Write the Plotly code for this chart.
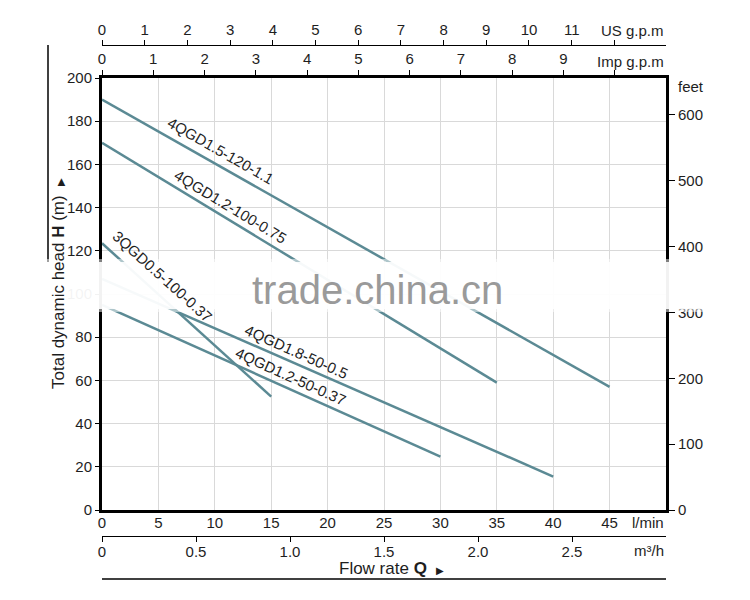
import plotly.graph_objects as go

# ---------------- data ----------------
series_names = ["4QGD1.5-120-1.1", "4QGD1.2-100-0.75", "3QGD0.5-100-0.37",
                "4QGD1.8-50-0.5", "4QGD1.2-50-0.37"]
flow_lpm = [[0, 45], [0, 35], [0, 15], [0, 40], [0, 30]]
head_m = [[190, 57], [170, 59], [123.5, 52.5], [107, 15.5], [95, 24.7]]

# label anchor (l/min, m) and angle for each curve label
label_q = [10.5, 11.4, 5.4, 17.2, 16.75]
label_h = [166.3, 140.7, 108.3, 73.3, 61.7]
label_angle = [29.6, 31.1, 42, 24.1, 24.3]

lpm_ticks = [0, 5, 10, 15, 20, 25, 30, 35, 40, 45]
head_ticks = [0, 20, 40, 60, 80, 100, 120, 140, 160, 180, 200]
feet_ticks = [0, 100, 200, 300, 400, 500, 600]
usgpm_ticks = list(range(0, 13))
impgpm_ticks = list(range(0, 11))
m3h_ticks = [0, 0.5, 1.0, 1.5, 2.0, 2.5]
m3h_labels = ["0", "0.5", "1.0", "1.5", "2.0", "2.5"]

Q_MAX = 50.0
H_MAX = 200.0
M_TO_FT = 3.28084
US_GAL = 3.78541
IMP_GAL = 4.54609

# ---------------- geometry ----------------
# the page shows the figure with an 8px body margin, so positions measured
# on the screenshot are shifted by OFF
OFF = 8
W, H = 750, 600
PL, PR, PT, PB = 102, 666, 20, 590          # paper box in screenshot pixels
ML = PL - OFF
MR = W - (PR - OFF)
MT = PT - OFF
MB = H - (PB - OFF)
PW = PR - PL
PH = PB - PT


def px(xp):
    return (xp - PL) / PW


def py(yp):
    return (PB - yp) / PH


FONT = "Liberation Sans, Arial, sans-serif"
TXT = "#1e1e1e"
LINE = "#5b8a94"
GRID = "#d9d9d9"

fig = go.Figure()
for name, q, h in zip(series_names, flow_lpm, head_m):
    fig.add_trace(go.Scatter(x=q, y=h, mode="lines", name=name,
                             line=dict(color=LINE, width=2.5),
                             showlegend=False, hoverinfo="skip"))
# invisible traces to activate secondary axes
for xa, ya in [("x2", "y"), ("x3", "y"), ("x4", "y"), ("x", "y2")]:
    fig.add_trace(go.Scatter(x=[0], y=[0], xaxis=xa, yaxis=ya, mode="markers",
                             marker=dict(opacity=0), showlegend=False,
                             hoverinfo="skip"))

ydom = [py(510), py(78)]
tickfont = dict(family=FONT, size=15, color=TXT)

fig.update_layout(
    width=W, height=H,
    margin=dict(l=ML, r=MR, t=MT, b=MB, autoexpand=False),
    paper_bgcolor="white", plot_bgcolor="white",
    font=dict(family=FONT, size=15, color=TXT),
    xaxis=dict(range=[0, Q_MAX], domain=[0, 1], anchor="y",
               tickvals=lpm_ticks, ticks="", tickfont=tickfont,
               ticklabelstandoff=-3,
               showgrid=True, gridcolor=GRID, gridwidth=1,
               showline=True, linecolor="black", linewidth=3,
               zeroline=False, fixedrange=True, automargin=False),
    xaxis3=dict(range=[0, Q_MAX / IMP_GAL], overlaying="x", anchor="y", side="top",
                tickvals=impgpm_ticks,
                ticktext=[str(v) if v < 10 else "" for v in impgpm_ticks],
                ticks="outside", ticklen=5, tickwidth=1, tickcolor="black",
                tickfont=tickfont, showgrid=False, automargin=False,
                showline=True, linecolor="black", linewidth=3, zeroline=False),
    xaxis2=dict(range=[0, Q_MAX / US_GAL], overlaying="x", anchor="free",
                position=py(44.5), side="top",
                tickvals=usgpm_ticks,
                ticktext=[str(v) if v < 12 else "" for v in usgpm_ticks],
                ticks="outside", ticklen=5, tickwidth=1, tickcolor="black",
                tickfont=tickfont, showgrid=False, automargin=False,
                ticklabelstandoff=-1,
                showline=True, linecolor="black", linewidth=1, zeroline=False),
    xaxis4=dict(range=[0, Q_MAX * 60 / 1000], overlaying="x", anchor="free",
                position=py(536), side="bottom",
                tickvals=m3h_ticks, ticktext=m3h_labels,
                ticks="outside", ticklen=5, tickwidth=1, tickcolor="black",
                tickfont=tickfont, showgrid=False, automargin=False,
                ticklabelstandoff=-3,
                showline=True, linecolor="black", linewidth=1, zeroline=False),
    yaxis=dict(range=[0, H_MAX], domain=ydom, anchor="x",
               tickvals=head_ticks, ticks="outside", ticklen=4, tickcolor="black",
               tickfont=tickfont, automargin=False,
               showgrid=True, gridcolor=GRID, gridwidth=1,
               showline=True, linecolor="black", linewidth=3,
               zeroline=False, fixedrange=True),
    yaxis2=dict(range=[0, H_MAX * M_TO_FT], overlaying="y", anchor="x", side="right",
                tickvals=feet_ticks, ticks="outside", ticklen=6, tickwidth=1,
                tickcolor="black", tickfont=tickfont, showgrid=False,
                automargin=False,
                showline=True, linecolor="black", linewidth=3, zeroline=False),
)

ann = []
# curve labels
for name, qx, hy, ang in zip(series_names, label_q, label_h, label_angle):
    ann.append(dict(x=qx, y=hy, xref="x", yref="y", text=name, showarrow=False,
                    textangle=ang, xanchor="center", yanchor="middle",
                    font=dict(family=FONT, size=15, color=TXT)))


def pann(x, y, text, xanchor="center", size=15, **kw):
    return dict(x=x, y=y, xref="paper", yref="paper", text=text, showarrow=False,
                xanchor=xanchor, yanchor="middle", font=dict(size=size), **kw)


ann += [
    pann(1, py(30), "US g.p.m", "right"),
    pann(1, py(61), "Imp g.p.m", "right"),
    pann(px(676), py(86), "feet", "left"),
    pann(1, py(522), "l/min", "right"),
    pann(1, py(550), "m³/h", "right"),
    pann(px(391), py(568),
         "Flow rate <b>Q</b>  <span style='font-size:10px'>▶</span>", size=17),
    pann(px(58), py(284),
         "Total dynamic head <b>H</b> (m)  <span style='font-size:10px'>▶</span>",
         size=17, textangle=-90),
]
fig.update_layout(annotations=ann)

shapes = [
    # left guide line beside the y title
    dict(type="line", xref="paper", yref="paper", x0=px(48), x1=px(48),
         y0=py(45), y1=py(262), line=dict(color="black", width=1.5)),
    # bottom guide line under the x title
    dict(type="line", xref="paper", yref="paper", x0=0, x1=1,
         y0=py(579), y1=py(579), line=dict(color="black", width=1.5)),
    # watermark band
    dict(type="rect", xref="paper", yref="paper", x0=px(0), x1=px(750),
         y0=py(309), y1=py(262), fillcolor="white", opacity=0.95,
         line=dict(width=0), layer="above"),
    dict(type="rect", xref="paper", yref="paper", x0=px(0), x1=px(750),
         y0=py(312), y1=py(309), fillcolor="white", opacity=0.5,
         line=dict(width=0), layer="above"),
    dict(type="rect", xref="paper", yref="paper", x0=px(0), x1=px(750),
         y0=py(262), y1=py(259), fillcolor="white", opacity=0.5,
         line=dict(width=0), layer="above"),
]
fig.update_layout(shapes=shapes)

fig.add_annotation(x=px(377), y=py(290), xref="paper", yref="paper",
                   text="trade.china.cn", showarrow=False,
                   xanchor="center", yanchor="middle",
                   font=dict(family=FONT, size=40, color="#9a9a9a"))

fig.write_html("out.html")
